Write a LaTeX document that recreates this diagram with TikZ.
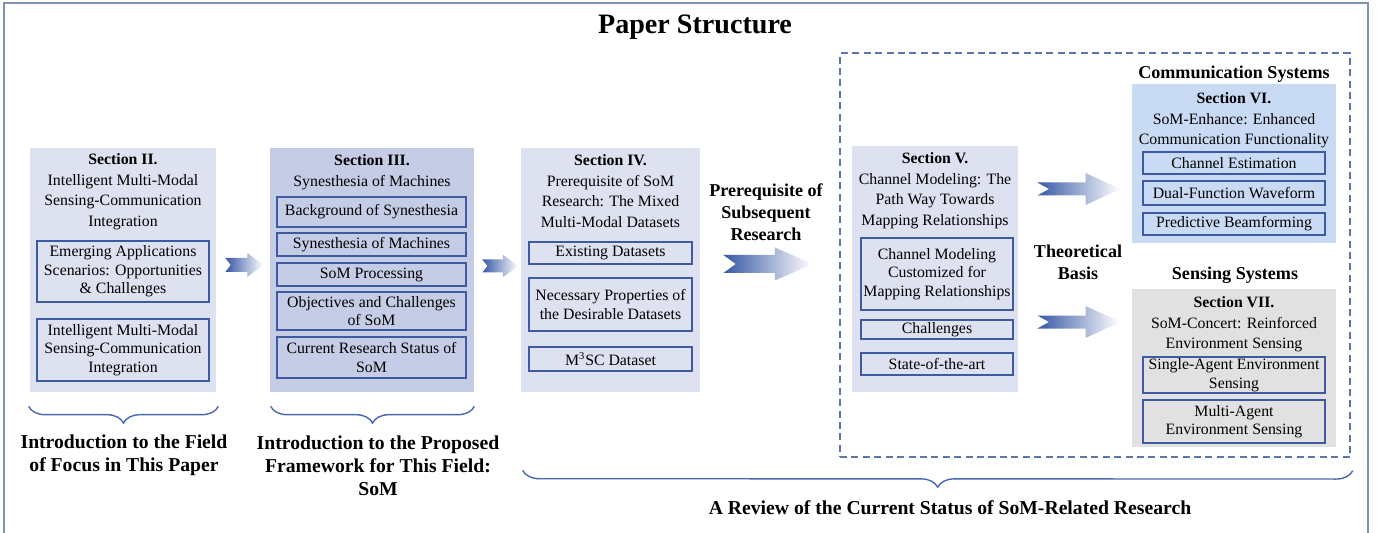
\documentclass[tikz,border=0pt]{standalone}
\usepackage{fontspec}
\setmainfont{Liberation Serif}
\usetikzlibrary{fit,calc,decorations.pathreplacing}

\definecolor{lavfill}{RGB}{221,225,240}
\definecolor{lavdark}{RGB}{197,204,229}
\definecolor{commfill}{RGB}{201,219,244}
\definecolor{sensfill}{RGB}{225,225,225}
\definecolor{itemline}{RGB}{62,90,160}
\definecolor{arrowblue}{RGB}{55,88,165}
\definecolor{bracecol}{RGB}{72,105,175}
\definecolor{dashcol}{RGB}{92,118,170}
\definecolor{framecol}{RGB}{130,146,180}

\begin{document}
\begin{tikzpicture}[x=0.02cm, y=-0.02cm,
    section/.style={draw=none, inner sep=0pt},
    item/.style={draw=itemline, line width=0.75pt, inner sep=0pt},
    itemtext/.style={inner sep=0pt, align=center, font=\fontsize{9}{10.5}\selectfont},
    sectitle/.style={anchor=north, inner sep=0pt, align=center,
      font=\fontsize{9}{11.6}\selectfont},
    heading/.style={inner sep=0pt, align=center, font=\fontsize{10.3}{12.5}\selectfont\bfseries},
    summary/.style={inner sep=0pt, align=center, font=\fontsize{11.2}{13.1}\selectfont\bfseries},
    brc/.style={draw=bracecol, line width=0.8pt, decorate,
      decoration={brace, mirror, amplitude=9.5pt}},
    flow/.style={left color=arrowblue, right color=white},
    pics/fatarrow/.style n args={3}{code={
      \shade[flow] (0,-#3) -- (0.58*#1,-#3) -- (0.58*#1,-#2) -- (#1,0)
        -- (0.58*#1,#2) -- (0.58*#1,#3) -- (0,#3) -- (0.14*#1,0) -- cycle;
    }},
  ]
  \useasboundingbox (0,0) rectangle (1381,533);
  \draw[framecol, line width=1.1pt] (4,545) -- (4,3) -- (1368,3) -- (1368,545);

  \node[font=\fontsize{16}{19}\selectfont\bfseries, inner sep=0pt] (ttl) at (695,27) {Paper Structure};

  % section boxes
  \node[section, fill=lavfill, fit={(30,148) (216,392)}] (s2) {};
  \node[section, fill=lavdark, fit={(270,148) (474,392)}] (s3) {};
  \node[section, fill=lavfill, fit={(521,148) (700,392)}] (s4) {};
  \node[draw=dashcol, line width=0.8pt, dash pattern=on 4pt off 2.5pt, inner sep=0pt,
    fit={(840,53) (1350,457)}] (grp) {};
  \node[section, fill=lavfill, fit={(852,146) (1018,392)}] (s5) {};
  \node[section, fill=commfill, fit={(1132,84) (1336,243)}] (s6) {};
  \node[section, fill=sensfill, fit={(1132,289) (1336,447)}] (s7) {};

  \node[sectitle] (s2t) at ($(s2.north)+(0,6)$) {\textbf{Section II.}\\Intelligent Multi-Modal\\Sensing-Communication\\Integration};
  \node[sectitle] (s3t) at ($(s3.north)+(0,7)$) {\textbf{Section III.}\\Synesthesia of Machines};
  \node[sectitle] (s4t) at ($(s4.north)+(0,7)$) {\textbf{Section IV.}\\Prerequisite of SoM\\Research: The Mixed\\Multi-Modal Datasets};
  \node[sectitle] (s5t) at ($(s5.north)+(0,7)$) {\textbf{Section V.}\\Channel Modeling: The\\Path Way Towards\\Mapping Relationships};
  \node[sectitle] (s6t) at ($(s6.north)+(0,9)$) {\textbf{Section VI.}\\SoM-Enhance: Enhanced\\Communication Functionality};
  \node[sectitle] (s7t) at ($(s7.north)+(0,8)$) {\textbf{Section VII.}\\SoM-Concert: Reinforced\\Environment Sensing};

  % sub-topics
  \node[item, fit={(37,241) (209,302)}] (s2a) {};
  \node[item, fit={(37,319) (209,381)}] (s2b) {};
  \node[item, fit={(277,197) (466,227)}] (s3a) {};
  \node[item, fit={(277,233) (466,256)}] (s3b) {};
  \node[item, fit={(277,263) (466,286)}] (s3c) {};
  \node[item, fit={(277,292) (466,330)}] (s3d) {};
  \node[item, fit={(277,337) (466,378)}] (s3e) {};
  \node[item, fit={(529,242) (692,264)}] (s4a) {};
  \node[item, fit={(529,278) (692,331)}] (s4b) {};
  \node[item, fit={(529,347) (692,371)}] (s4c) {};
  \node[item, fit={(861,238) (1013,310)}] (s5a) {};
  \node[item, fit={(861,320) (1013,339)}] (s5b) {};
  \node[item, fit={(861,353) (1013,375)}] (s5c) {};
  \node[item, fit={(1143,152) (1325,174)}] (s6a) {};
  \node[item, fit={(1143,181) (1325,205)}] (s6b) {};
  \node[item, fit={(1143,213) (1325,235)}] (s6c) {};
  \node[item, fit={(1143,357) (1325,393)}] (s7a) {};
  \node[item, fit={(1143,400) (1325,443)}] (s7b) {};

  \node[itemtext] (s2a-t) at (s2a) {Emerging Applications\\Scenarios: Opportunities\\\& Challenges};
  \node[itemtext] (s2b-t) at (s2b) {Intelligent Multi-Modal\\Sensing-Communication\\Integration};
  \node[itemtext] (s3a-t) at (s3a) {Background of Synesthesia};
  \node[itemtext] (s3b-t) at (s3b) {Synesthesia of Machines};
  \node[itemtext] (s3c-t) at (s3c) {SoM Processing};
  \node[itemtext] (s3d-t) at (s3d) {Objectives and Challenges\\of SoM};
  \node[itemtext] (s3e-t) at (s3e) {Current Research Status of\\SoM};
  \node[itemtext] (s4a-t) at (s4a) {Existing Datasets};
  \node[itemtext] (s4b-t) at (s4b) {Necessary Properties of\\the Desirable Datasets};
  \node[itemtext] (s4c-t) at (s4c) {M\textsuperscript{3}SC Dataset};
  \node[itemtext] (s5a-t) at (s5a) {Channel Modeling\\Customized for\\Mapping Relationships};
  \node[itemtext] (s5b-t) at (s5b) {Challenges};
  \node[itemtext] (s5c-t) at (s5c) {State-of-the-art};
  \node[itemtext] (s6a-t) at (s6a) {Channel Estimation};
  \node[itemtext] (s6b-t) at (s6b) {Dual-Function Waveform};
  \node[itemtext] (s6c-t) at (s6c) {Predictive Beamforming};
  \node[itemtext] (s7a-t) at (s7a) {Single-Agent Environment\\Sensing};
  \node[itemtext] (s7b-t) at (s7b) {Multi-Agent\\Environment Sensing};

  % arrows
  \pic at ($(s2.east)+(9,-5)$) {fatarrow={38}{12}{7}};
  \pic at ($(s3.east)+(8,-4)$) {fatarrow={36}{11}{6.5}};
  \pic at ($(s4.east)+(23,-6)$) {fatarrow={89}{16.5}{9}};
  \pic at ($(s5.east)+(19,-80)$) {fatarrow={83}{16}{6.5}};
  \pic at ($(s5.east)+(19,53)$) {fatarrow={83}{16}{6.5}};

  \node[heading] (pre) at (766,212) {Prerequisite of\\Subsequent\\Research};
  \node[heading] (theo) at (1078,262) {Theoretical\\Basis};
  \node[heading] (comm) at (1234,74) {Communication Systems};
  \node[heading] (sens) at (1235,275) {Sensing Systems};

  % braces
  \draw[brc] ($(s2.south west)+(-1,14)$) -- ($(s2.south east)+(2,14)$);
  \draw[brc] ($(s3.south west)+(1,14)$) -- ($(s3.south east)+(0,14)$);
  \draw[brc] ($(s4.south west)+(2,78)$) -- ($(grp.south east)+(2,13)$);

  \node[summary] (sum2) at (124,455) {Introduction to the Field\\of Focus in This Paper};
  \node[summary] (sum3) at (378,466) {Introduction to the Proposed\\Framework for This Field:\\SoM};
  \node[summary] (sum4) at (950,508) {A Review of the Current Status of SoM-Related Research};
\end{tikzpicture}
\end{document}
